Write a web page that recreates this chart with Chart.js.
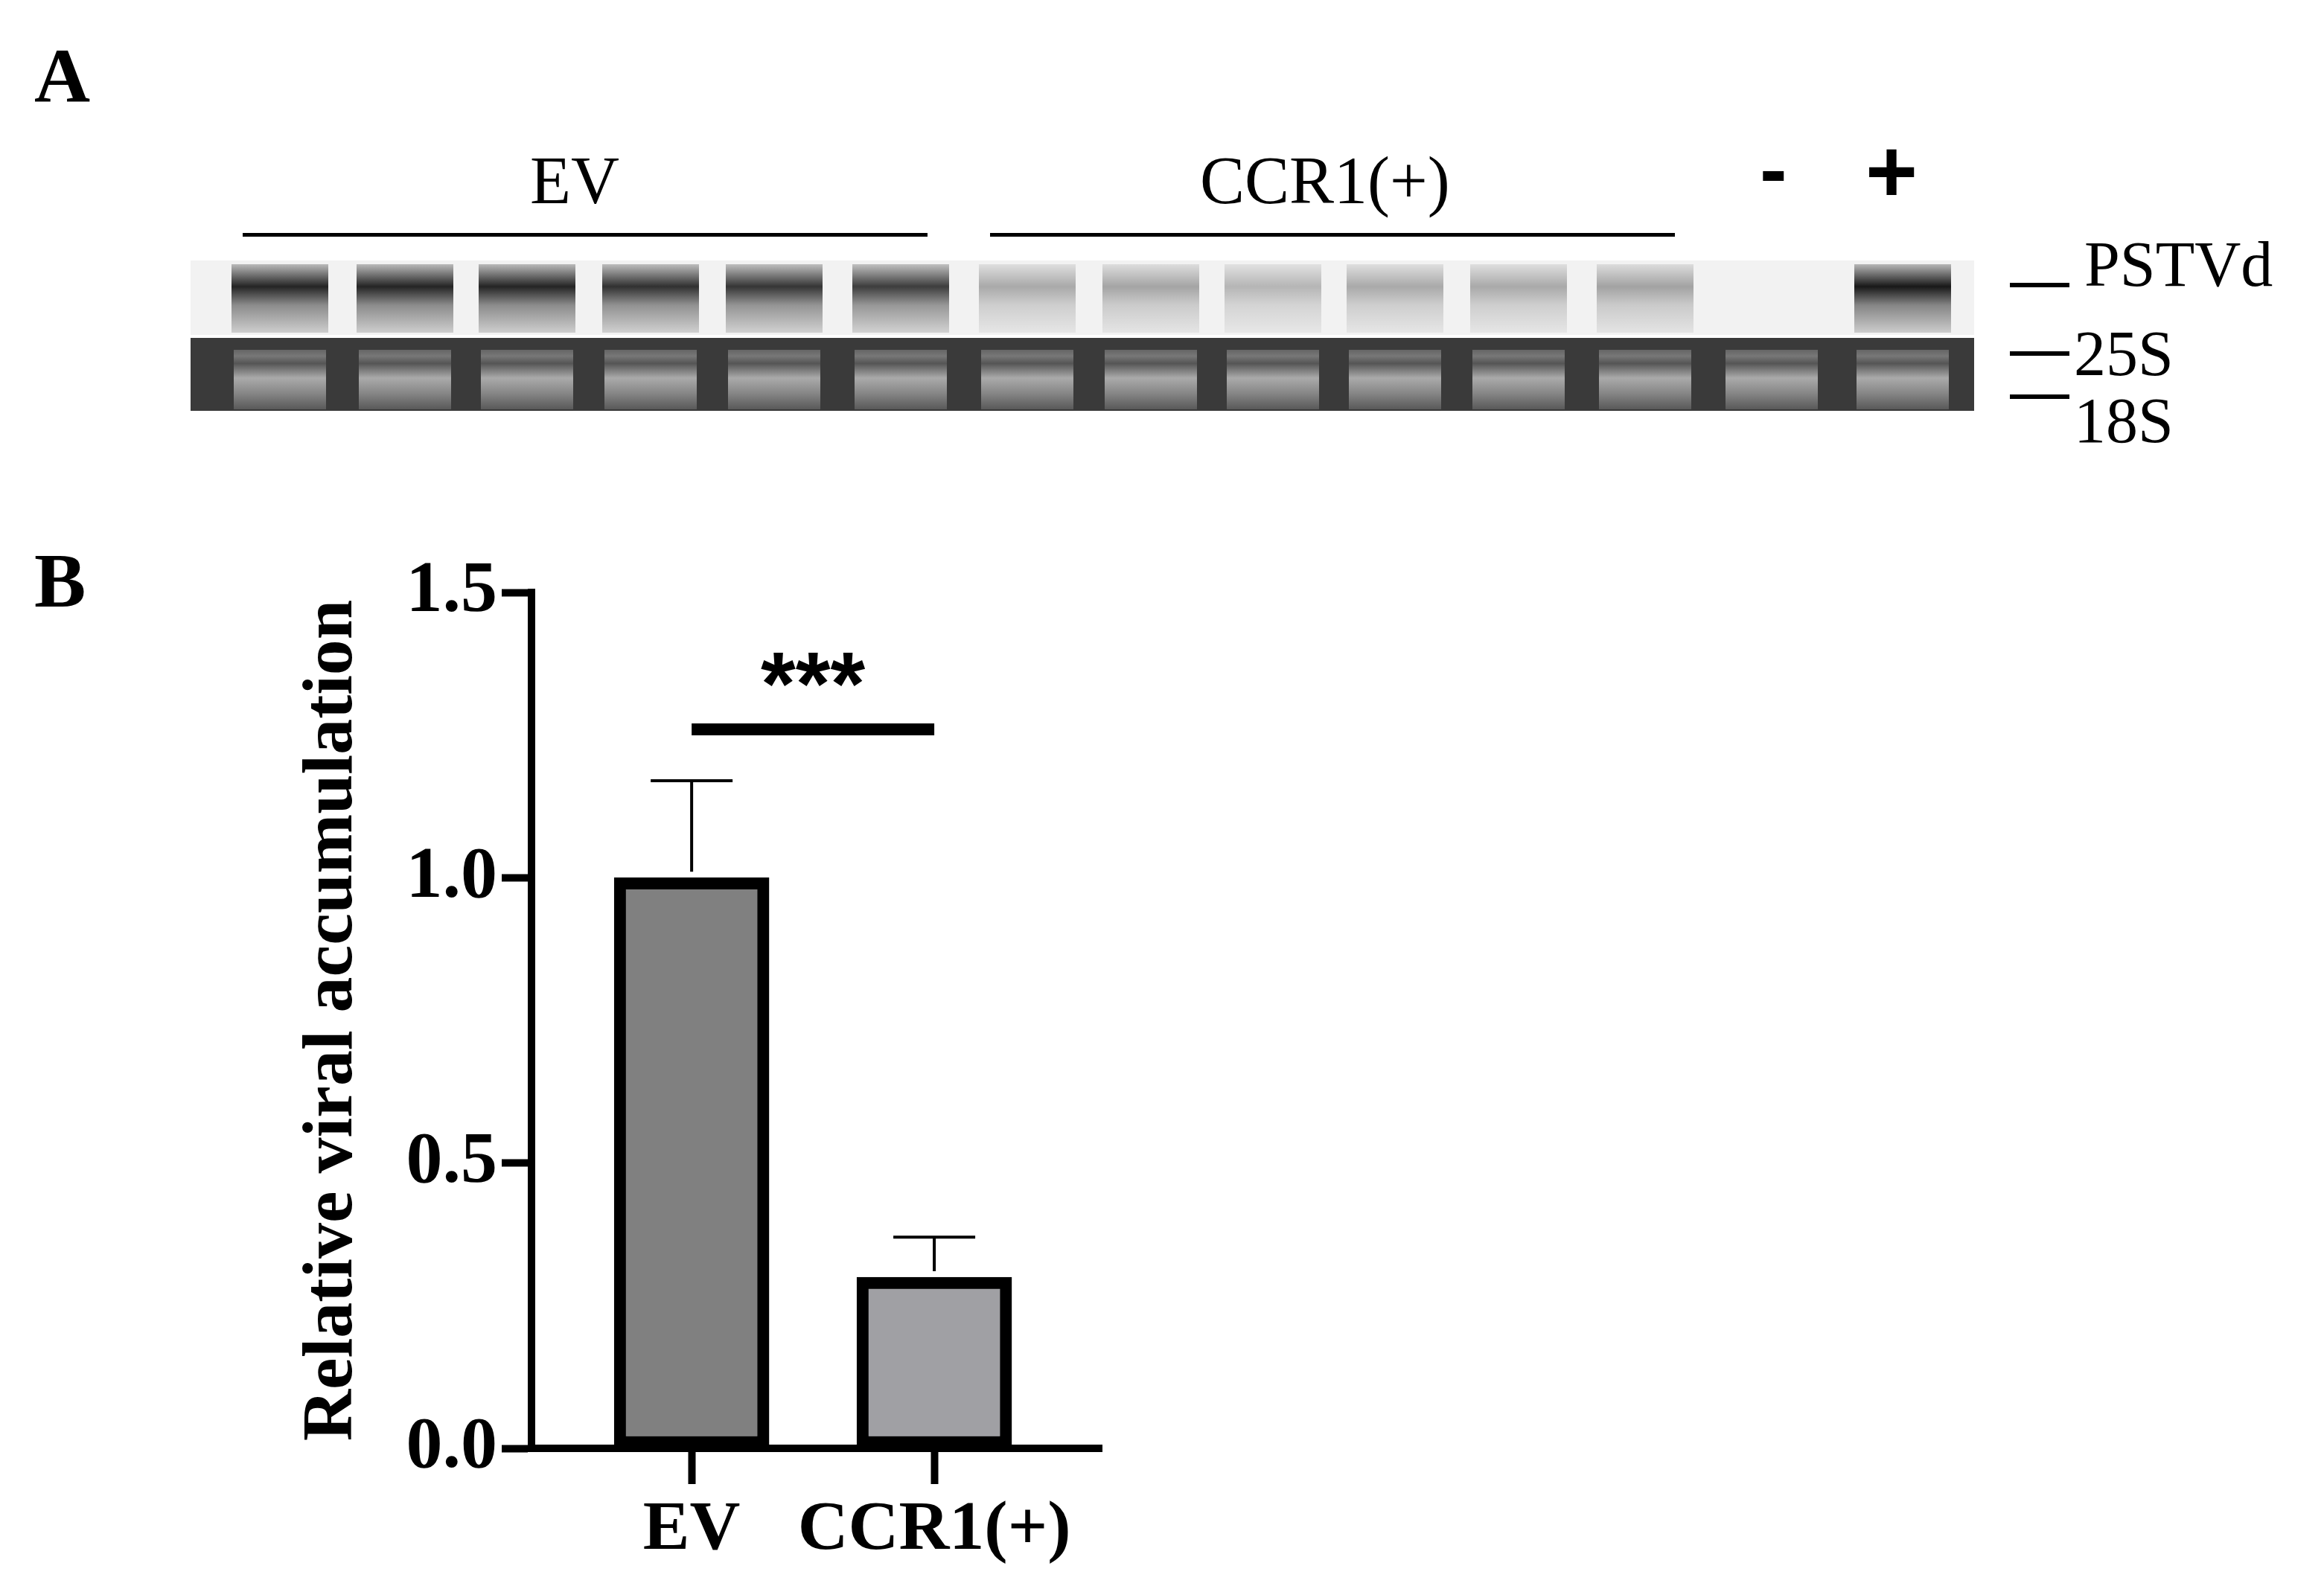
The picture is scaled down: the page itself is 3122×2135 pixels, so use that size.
<!DOCTYPE html>
<html><head><meta charset="utf-8">
<script src="https://cdn.jsdelivr.net/npm/chart.js@4/dist/chart.umd.min.js"></script>
<style>
body{margin:0;width:3122px;height:2135px;background:#fff;position:relative;overflow:hidden;font-family:"Liberation Serif",serif}
.t{position:absolute;white-space:nowrap;line-height:1}
</style></head><body>
<div class="t" style="left:46px;top:50px;font-size:104px;font-weight:bold">A</div>
<div class="t" style="left:46px;top:728px;font-size:104px;font-weight:bold">B</div>
<div class="t" style="left:712px;top:198px;font-size:90px">EV</div>
<div class="t" style="left:1612px;top:198px;font-size:90px">CCR1(+)</div>
<div class="t" style="left:2364px;top:172px;font-size:110px;font-weight:bold;font-family:'Liberation Sans'">-</div>
<div class="t" style="left:2506px;top:170px;font-size:120px;font-weight:bold;font-family:'Liberation Sans'">+</div>
<div class="t" style="left:2800px;top:312px;font-size:86px">PSTVd</div>
<div class="t" style="left:2786px;top:432px;font-size:86px">25S</div>
<div class="t" style="left:2786px;top:522px;font-size:86px">18S</div>
<canvas id="gel" width="3122" height="700" style="position:absolute;left:0;top:0"></canvas>
<div style="position:absolute;left:300px;top:700px;width:1300px;height:1435px"><canvas id="c"></canvas></div>
<script>
const categories=['EV','CCR1(+)'];
const means=[1.0,0.30];
const errs=[0.17,0.07];
const yTicks=[0,0.5,1.0,1.5];
const fills=['#808080','#a0a0a4'];
const sigLevel=1.26, sigText='***';

// gel (decorative)
const g=document.getElementById('gel').getContext('2d');
g.fillStyle='#000';
g.fillRect(326,313,920,5);g.fillRect(1330,313,920,5);
g.fillRect(2700,380,80,6);g.fillRect(2700,472,80,6);g.fillRect(2700,530,80,6);
g.fillStyle='#f2f2f2';g.fillRect(256,350,2396,100);
g.fillStyle='#3a3a3a';g.fillRect(256,454,2396,98);
const lanes=[376,544,708,874,1040,1210,1380,1546,1710,1874,2040,2210,2380,2556];
const inten=[0.85,0.85,0.85,0.8,0.78,0.75,0.3,0.32,0.25,0.3,0.3,0.33,0,0.9];
lanes.forEach((x,i)=>{
  const a=inten[i];
  if(a>0){let gr=g.createLinearGradient(0,350,0,450);
   gr.addColorStop(0,'rgba(0,0,0,'+a*0.15+')');gr.addColorStop(0.35,'rgba(0,0,0,'+a+')');
   gr.addColorStop(0.6,'rgba(0,0,0,'+a*0.5+')');gr.addColorStop(1,'rgba(0,0,0,'+a*0.15+')');
   g.fillStyle=gr;g.fillRect(x-65,355,130,92);}
  let gr2=g.createLinearGradient(0,454,0,552);
  gr2.addColorStop(0,'#444');gr2.addColorStop(0.25,'#777');gr2.addColorStop(0.35,'#555');
  gr2.addColorStop(0.55,'#aaa');gr2.addColorStop(0.75,'#888');gr2.addColorStop(1,'#555');
  g.fillStyle=gr2;g.fillRect(x-62,470,124,80);
});

const extras={id:'extras',afterDatasetsDraw(ch){
  const c=ch.ctx,x=ch.scales.x,y=ch.scales.y;
  c.save();c.strokeStyle='#000';c.lineWidth=4;
  means.forEach((m,i)=>{
    const px=x.getPixelForValue(i),top=y.getPixelForValue(m+errs[i]),b=y.getPixelForValue(m);
    c.beginPath();c.moveTo(px,b-8);c.lineTo(px,top);c.moveTo(px-55,top);c.lineTo(px+55,top);c.stroke();
  });
  const sy=y.getPixelForValue(sigLevel);
  c.fillStyle='#000';c.fillRect(x.getPixelForValue(0),sy-8,x.getPixelForValue(1)-x.getPixelForValue(0),16);
  c.font='bold 120px "Liberation Sans"';c.textAlign='center';c.textBaseline='alphabetic';
  c.fillText(sigText,(x.getPixelForValue(0)+x.getPixelForValue(1))/2,sy-20);
  c.restore();
}};

new Chart(document.getElementById('c'),{
  type:'bar',
  data:{datasets:[{data:means.map((v,i)=>({x:i,y:v})),backgroundColor:fills,borderColor:'#000',borderWidth:16,barThickness:208,borderSkipped:false}]},
  options:{responsive:true,maintainAspectRatio:false,animation:false,
    layout:{padding:{top:96,right:120,left:0,bottom:0}},
    plugins:{legend:{display:false},tooltip:{enabled:false}},
    scales:{
      x:{type:'linear',min:-0.66,max:1.69,offset:false,
        afterBuildTicks(s){s.ticks=[{value:0},{value:1}];},
        afterFit(s){s.height=189;},
        ticks:{callback:v=>categories[v],color:'#000',font:{family:'Liberation Serif',size:94,weight:'bold'},padding:6,maxRotation:0,autoSkip:false},
        grid:{offset:false,drawOnChartArea:false,tickLength:48,tickWidth:10,color:'#000'},
        border:{width:10,color:'#000'}},
      y:{min:0,max:1.5,
        afterBuildTicks(s){s.ticks=yTicks.map(v=>({value:v}));},
        afterFit(s){s.width=414;},
        ticks:{callback:v=>v.toFixed(1),color:'#000',font:{family:'Liberation Serif',size:98,weight:'bold'},padding:6},
        grid:{drawOnChartArea:false,tickLength:40,tickWidth:10,color:'#000'},
        border:{width:10,color:'#000'},
        title:{display:true,text:'Relative viral accumulation',color:'#000',font:{family:'Liberation Serif',size:96,weight:'bold'},padding:{top:90,bottom:0}}}
    }},
  plugins:[extras]
});
</script></body></html>
